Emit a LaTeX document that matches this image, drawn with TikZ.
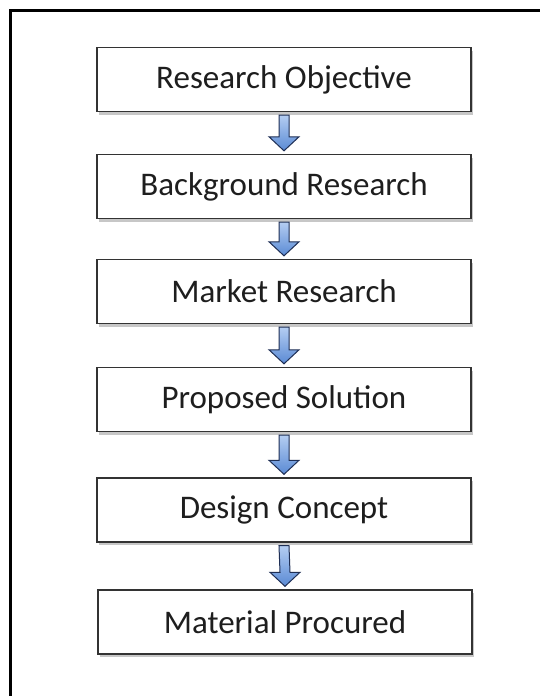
\documentclass[tikz,border=0pt]{standalone}
\usepackage{fontspec}
\setmainfont{Carlito}
\usetikzlibrary{calc,shadows}
\definecolor{boxline}{HTML}{333333}
\definecolor{textcol}{HTML}{1E1E1E}
\definecolor{arrowtop}{HTML}{B4CDF2}
\definecolor{arrowbot}{HTML}{5A8AD4}
\definecolor{arrowline}{HTML}{1F2F55}
\begin{document}
\begin{tikzpicture}[x=1pt,y=-1pt,
  stagebox/.style={draw=boxline, line width=1.4pt, fill=white,
    minimum width=374pt, minimum height=64pt, inner sep=0pt,
    font=\fontsize{33}{39}\selectfont, text=textcol,
    drop shadow={shadow xshift=1.5pt, shadow yshift=-3pt, fill=black, opacity=0.22}},
  blockarrow/.style={draw=arrowline, line width=1pt, line join=miter,
    top color=arrowtop, bottom color=arrowbot}]
\useasboundingbox (0,0) rectangle (539,696);
\fill[white] (0,0) rectangle (539,696);
\draw[line width=3pt, black] (10.5,705) -- (10.5,10.5) -- (545,10.5);

\node[stagebox] (b1) at (284,79.5) {Research Objective};
\node[stagebox] (b2) at (284,186.5) {Background Research};
\node[stagebox] (b3) at (284,291.5) {Market Research};
\node[stagebox] (b4) at (284,399.5) {Proposed Solution};
\node[stagebox] (b5) at (284,510) {Design Concept};
\node[stagebox] (b6) at (285,622) {Material Procured};

\foreach \a/\b in {b1/b2,b2/b3,b3/b4,b4/b5,b5/b6}{
  \draw[blockarrow]
    ($(\a.south)+(-5,3)$) -- ($(\a.south)+(5,3)$) --
    ($(\b.north)+(5,-17)$) -- ($(\b.north)+(15,-17)$) --
    ($(\b.north)+(0,-3)$) --
    ($(\b.north)+(-15,-17)$) -- ($(\b.north)+(-5,-17)$) -- cycle;
}
\end{tikzpicture}
\end{document}
